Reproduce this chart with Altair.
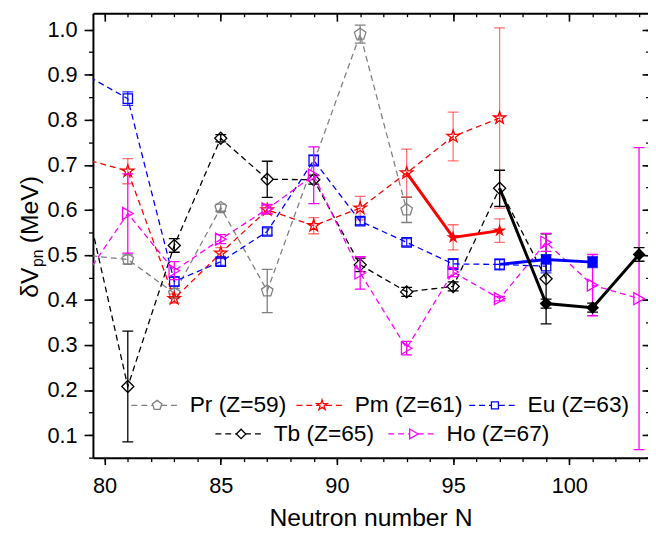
import altair as alt
import pandas as pd

# ---------------- data ----------------
# dashed series: neutron number, dV_pn (MeV), error
N_pr = [79, 81, 83, 85, 87, 91, 93]
V_pr = [0.50, 0.49, 0.415, 0.605, 0.42, 0.99, 0.60]
E_pr = [0.0, 0.01, 0.01, 0.008, 0.048, 0.02, 0.028]

N_pm = [79, 81, 83, 85, 87, 89, 91, 93, 95, 97]
V_pm = [0.715, 0.686, 0.403, 0.504, 0.60, 0.565, 0.604, 0.682, 0.763, 0.804]
E_pm = [0.0, 0.028, 0.01, 0.012, 0.01, 0.018, 0.026, 0.053, 0.054, 0.20]

N_eu = [79, 81, 83, 85, 87, 89, 91, 93, 95, 97, 99]
V_eu = [0.905, 0.847, 0.441, 0.485, 0.552, 0.71, 0.575, 0.528, 0.48, 0.479, 0.475]
E_eu = [0.0, 0.015, 0.01, 0.008, 0.008, 0.012, 0.008, 0.008, 0.012, 0.012, 0.015]

N_tb = [79, 81, 83, 85, 87, 89, 91, 93, 95, 97, 99]
V_tb = [0.665, 0.208, 0.521, 0.759, 0.668, 0.667, 0.478, 0.418, 0.43, 0.648, 0.447]
E_tb = [0.0, 0.123, 0.015, 0.008, 0.04, 0.01, 0.015, 0.01, 0.01, 0.04, 0.10]

N_ho = [79, 81, 83, 85, 87, 89, 91, 93, 95, 97, 99, 101, 103]
V_ho = [0.44, 0.592, 0.465, 0.535, 0.602, 0.677, 0.46, 0.293, 0.462, 0.403, 0.528, 0.433, 0.403]
E_ho = [0.0, 0.088, 0.02, 0.01, 0.01, 0.063, 0.036, 0.015, 0.01, 0.005, 0.02, 0.068, 0.335]

# solid series (first point is the junction with the dashed series)
NS_pm = [93, 95, 97]
VS_pm = [0.682, 0.539, 0.554]
ES_pm = [0.0, 0.028, 0.026]

NS_eu = [97, 99, 101]
VS_eu = [0.479, 0.49, 0.484]
ES_eu = [0.0, 0.01, 0.012]

NS_tb = [97, 99, 101, 103]
VS_tb = [0.648, 0.392, 0.383, 0.501]
ES_tb = [0.0, 0.01, 0.01, 0.015]

labels = ["Pr (Z=59)", "Pm (Z=61)", "Eu (Z=63)", "Tb (Z=65)", "Ho (Z=67)"]
x_major = [80, 85, 90, 95, 100]
x_minor = list(range(80, 104))
y_major = [0.1, 0.2, 0.3, 0.4, 0.5, 0.6, 0.7, 0.8, 0.9, 1.0]
y_minor = [round(0.05 * i, 2) for i in range(1, 21)]

# ---------------- styles ----------------
FONT = "Liberation Sans"
PENTAGON = "M0,-1L0.951,-0.309L0.588,0.809L-0.588,0.809L-0.951,-0.309Z"
STAR = ("M0,-1L0.2245,-0.309L0.951,-0.309L0.363,0.118L0.588,0.809L0,0.382"
        "L-0.588,0.809L-0.363,0.118L-0.951,-0.309L-0.2245,-0.309Z")
XS = alt.Scale(domain=[79.5, 103.385], nice=False, zero=False)
YS = alt.Scale(domain=[0.05, 1.0366], nice=False, zero=False)

series = [
    # label, color, errcolor, err opacity, shape, size, legend size, N, V, E
    (labels[0], "#808080", "#808080", 1.0, PENTAGON, 150, 100, N_pr, V_pr, E_pr),
    (labels[1], "#ff0000", "#ff0000", 0.55, STAR, 170, 120, N_pm, V_pm, E_pm),
    (labels[2], "#0000ff", "#0000ff", 0.8, "square", 90, 50, N_eu, V_eu, E_eu),
    (labels[3], "#000000", "#000000", 1.0, "diamond", 150, 90, N_tb, V_tb, E_tb),
    (labels[4], "#ff00ff", "#ff00ff", 1.0, "triangle-right", 150, 100, N_ho, V_ho, E_ho),
]
solids = [
    ("#ff0000", "#ff0000", 0.55, STAR, 200, NS_pm, VS_pm, ES_pm),
    ("#0000ff", "#0000ff", 0.8, "square", 110, NS_eu, VS_eu, ES_eu),
    ("#000000", "#000000", 1.0, "diamond", 170, NS_tb, VS_tb, ES_tb),
]


def frame(N, V, E):
    df = pd.DataFrame({"N": N, "V": V, "E": E})
    df["lo"] = df["V"] - df["E"]
    df["hi"] = df["V"] + df["E"]
    return df


def X(field="N"):
    return alt.X(f"{field}:Q", scale=XS, axis=None)


def Y(field="V"):
    return alt.Y(f"{field}:Q", scale=YS, axis=None)


def errorbars(df, color, op):
    d = df[df["E"] > 0]
    base = alt.Chart(d)
    bar = base.mark_rule(color=color, opacity=op, strokeWidth=1.3, clip=True).encode(
        x=X(), y=Y("lo"), y2="hi:Q")
    cap_lo = base.mark_tick(color=color, opacity=op, orient="horizontal", size=11,
                            thickness=1.3, clip=True).encode(x=X(), y=Y("lo"))
    cap_hi = base.mark_tick(color=color, opacity=op, orient="horizontal", size=11,
                            thickness=1.3, clip=True).encode(x=X(), y=Y("hi"))
    return [bar, cap_lo, cap_hi]


layers = []
for (lab, col, ecol, eop, shp, sz, lsz, N, V, E) in series:
    df = frame(N, V, E)
    layers += errorbars(df, ecol, eop)
    layers.append(alt.Chart(df).mark_line(color=col, strokeDash=[6, 4], strokeWidth=1.3,
                                          clip=True).encode(x=X(), y=Y()))
    layers.append(alt.Chart(df).mark_point(shape=shp, size=sz, filled=False, color=col,
                                           strokeWidth=1.3, opacity=1, clip=True)
                  .encode(x=X(), y=Y()))

for (col, ecol, eop, shp, sz, N, V, E) in solids:
    df = frame(N, V, E)
    layers += errorbars(df, ecol, eop)
    layers.append(alt.Chart(df).mark_line(color=col, strokeWidth=3, clip=True)
                  .encode(x=X(), y=Y()))
    layers.append(alt.Chart(df.iloc[1:]).mark_point(shape=shp, size=sz, filled=True,
                                                    color=col, opacity=1, clip=True)
                  .encode(x=X(), y=Y()))

# ---------------- axes (major / minor / mirrored) ----------------
dummy = pd.DataFrame({"N": [90.0], "V": [0.5]})
common = dict(grid=False, title=None, tickColor="black", domainColor="black")


def axis_layer(xaxis, yaxis):
    return alt.Chart(dummy).mark_point(opacity=0).encode(
        x=alt.X("N:Q", scale=XS, axis=xaxis),
        y=alt.Y("V:Q", scale=YS, axis=yaxis))


ax_bottom = alt.Axis(orient="bottom", values=x_major, tickSize=7, tickWidth=1.6,
                     domain=True, domainWidth=2, labelFontSize=22, labelPadding=11,
                     labelColor="black", labelFont=FONT, grid=False,
                     title="Neutron number N", titleFontSize=25, titleFont=FONT,
                     titleFontWeight="normal", titleColor="black", titlePadding=10,
                     tickColor="black", domainColor="black")
ax_bottom_minor = alt.Axis(orient="bottom", values=x_minor, tickSize=4, tickWidth=1.3,
                           domain=False, labels=False, **common)
ax_top = alt.Axis(orient="top", values=x_major, tickSize=8, offset=-8, tickWidth=1.6,
                  domain=False, labels=False, **common)
ax_top_minor = alt.Axis(orient="top", values=x_minor, tickSize=3.5, offset=-3.5,
                        tickWidth=1.3, domain=False, labels=False, **common)
ax_top_line = alt.Axis(orient="top", ticks=False, domain=True, domainWidth=2,
                       labels=False, **common)

ax_left = alt.Axis(orient="left", values=y_major, tickSize=9, tickWidth=1.6, domain=True,
                   domainWidth=2, labelFontSize=22, labelPadding=7, labelColor="black",
                   labelFont=FONT, format=".1f", **common)
ax_left_minor = alt.Axis(orient="left", values=y_minor, tickSize=4.5, tickWidth=1.3,
                         domain=False, labels=False, **common)
ax_right = alt.Axis(orient="right", values=y_major, tickSize=6, offset=-6, tickWidth=1.6,
                    domain=False, labels=False, **common)
ax_right_minor = alt.Axis(orient="right", values=y_minor, tickSize=2.5, offset=-2.5,
                          tickWidth=1.3, domain=False, labels=False, **common)

axis_layers = [
    axis_layer(ax_bottom, ax_left),
    axis_layer(ax_bottom_minor, ax_left_minor),
    axis_layer(ax_top, ax_right),
    axis_layer(ax_top_minor, ax_right_minor),
    axis_layer(ax_top_line, None),
]

# ---------------- y title with subscript ----------------
one = pd.DataFrame({"a": [1]})
ytitle = [
    alt.Chart(one).mark_text(text="δV", angle=270, align="left", baseline="alphabetic",
                             fontSize=25, font=FONT, color="black")
    .encode(x=alt.value(-56), y=alt.value(288)),
    alt.Chart(one).mark_text(text="pn", angle=270, align="left", baseline="alphabetic",
                             fontSize=16, font=FONT, color="black")
    .encode(x=alt.value(-51), y=alt.value(257)),
    alt.Chart(one).mark_text(text="(MeV)", angle=270, align="left", baseline="alphabetic",
                             fontSize=25, font=FONT, color="black")
    .encode(x=alt.value(-56), y=alt.value(233)),
]

# ---------------- legend (drawn inside the plot) ----------------
leg_pos = [(39, 397), (206, 397), (381, 397), (124, 426), (299, 426)]
legend = []
for (lab, col, ecol, eop, shp, sz, lsz, N, V, E), (sx, sy) in zip(series, leg_pos):
    legend.append(alt.Chart(one).mark_rule(color=col, strokeDash=[6, 4], strokeWidth=1.3)
                  .encode(x=alt.value(sx), x2=alt.value(sx + 50), y=alt.value(sy)))
    legend.append(alt.Chart(one).mark_point(shape=shp, size=lsz, filled=True, fill="white",
                                            stroke=col, strokeWidth=1.3, opacity=1)
                  .encode(x=alt.value(sx + 26), y=alt.value(sy)))
    legend.append(alt.Chart(one).mark_text(text=lab, align="left", baseline="middle",
                                           fontSize=23, font=FONT, color="black")
                  .encode(x=alt.value(sx + 59), y=alt.value(sy)))

chart = alt.layer(*axis_layers, *layers, *ytitle, *legend).resolve_axis(
    x="independent", y="independent"
).properties(
    width=562, height=450,
    padding={"left": 86, "top": 2, "right": 0, "bottom": 72},
    autosize=alt.AutoSizeParams(type="none"),
).configure_view(stroke=None).configure_axis(grid=False)

chart.save("out.html", embed_options={"renderer": "svg", "actions": False})
